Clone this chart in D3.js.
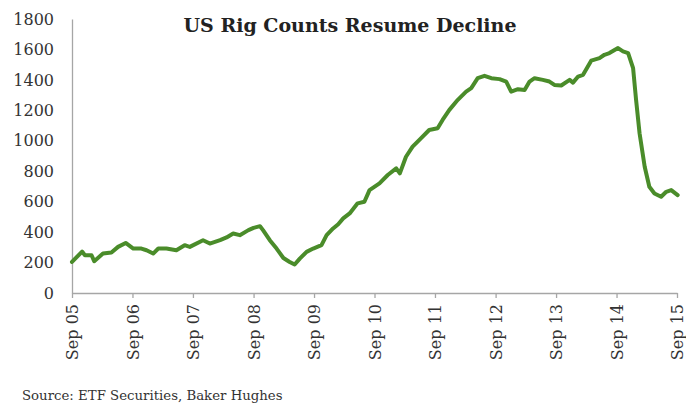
<!DOCTYPE html>
<html>
<head>
<meta charset="utf-8">
<script src="https://cdn.jsdelivr.net/npm/d3@7"></script>
<style>
  body { margin: 0; background: #fff; }
  svg { display: block; }
</style>
</head>
<body>
<svg id="chart" width="686" height="403"></svg>
<script>
// rig count readings (approx) off the chart
const dates = [
  "2005-09-01","2005-11-01","2005-11-18","2005-12-28","2006-01-13","2006-03-07","2006-04-27","2006-06-06","2006-07-22","2006-09-06",
  "2006-10-25","2006-11-25","2007-01-04","2007-02-04","2007-03-25","2007-05-24","2007-07-13","2007-08-13","2007-11-01","2007-12-12",
  "2008-02-12","2008-03-22","2008-05-01","2008-06-10","2008-08-01","2008-09-01","2008-10-10","2008-10-28","2008-12-08","2009-01-18",
  "2009-02-28","2009-04-07","2009-05-07","2009-06-07","2009-07-18","2009-08-27","2009-10-16","2009-11-16","2009-12-25","2010-01-25",
  "2010-02-24","2010-04-04","2010-05-22","2010-07-02","2010-08-02","2010-10-01","2010-11-20","2011-01-10","2011-02-01","2011-03-10",
  "2011-04-19","2011-06-08","2011-07-28","2011-09-17","2011-10-17","2011-11-27","2012-01-17","2012-03-07","2012-04-07","2012-05-16",
  "2012-06-26","2012-08-06","2012-09-25","2012-11-04","2012-12-04","2013-01-14","2013-02-23","2013-03-25","2013-04-24","2013-06-13",
  "2013-07-23","2013-08-22","2013-10-02","2013-11-22","2013-12-12","2014-01-12","2014-02-11","2014-04-01","2014-05-21","2014-06-20",
  "2014-07-20","2014-09-10","2014-10-10","2014-11-10","2014-12-10","2014-12-28","2015-01-18","2015-02-18","2015-03-18","2015-04-18",
  "2015-05-28","2015-06-28","2015-07-28","2015-09-05"
];
const rigs = [
  204, 272, 248, 248, 209, 259, 266, 303, 329, 292,
  292, 281, 259, 292, 292, 281, 314, 303, 347, 325,
  347, 365, 391, 380, 413, 428, 439, 413, 347, 292,
  230, 204, 187, 226, 270, 292, 314, 380, 424, 452,
  490, 523, 589, 599, 676, 720, 775, 819, 786, 895,
  961, 1016, 1071, 1082, 1137, 1203, 1269, 1323, 1346, 1411,
  1427, 1411, 1405, 1389, 1323, 1339, 1334, 1389, 1411, 1400,
  1389, 1367, 1363, 1400, 1382, 1422, 1433, 1526, 1543, 1565,
  1576, 1609, 1587, 1576, 1477, 1269, 1049, 829, 698, 654,
  632, 665, 676, 643
];
const yTicks = [0, 200, 400, 600, 800, 1000, 1200, 1400, 1600, 1800];
const xTickLabels = ["Sep 05","Sep 06","Sep 07","Sep 08","Sep 09","Sep 10","Sep 11","Sep 12","Sep 13","Sep 14","Sep 15"];

const title = "US Rig Counts Resume Decline";
const source = "Source: ETF Securities, Baker Hughes";

const width = 686, height = 403;
const margin = { top: 19, right: 9, bottom: 110, left: 72 };
const font = "Georgia, 'DejaVu Serif', serif";

const parse = d3.timeParse("%Y-%m-%d");
const data = dates.map((d, i) => ({ date: parse(d), value: rigs[i] }));
const tickDates = xTickLabels.map(l => new Date(2000 + +l.slice(4), 8, 1));

const x = d3.scaleTime()
    .domain([tickDates[0], tickDates[tickDates.length - 1]])
    .range([margin.left, width - margin.right]);

const y = d3.scaleLinear()
    .domain([0, 1800])
    .range([height - margin.bottom, margin.top]);

const svg = d3.select("#chart")
    .attr("font-family", font);

// y axis
const yAxis = svg.append("g")
    .attr("transform", `translate(${margin.left},0)`)
    .call(d3.axisLeft(y).tickValues(yTicks).tickSize(0).tickPadding(18).tickFormat(d3.format("d")))
    .attr("font-family", font)
    .attr("font-size", 16);
yAxis.select(".domain").attr("stroke", "#a6a6a6").attr("stroke-width", 1.3);
yAxis.selectAll("text").attr("fill", "#333");

// x axis
const xAxis = svg.append("g")
    .attr("transform", `translate(0,${height - margin.bottom})`)
    .call(d3.axisBottom(x)
        .tickValues(tickDates)
        .tickSize(5)
        .tickSizeOuter(0)
        .tickFormat((d, i) => xTickLabels[i]))
    .attr("font-family", font)
    .attr("font-size", 16);
xAxis.select(".domain").attr("stroke", "#a6a6a6").attr("stroke-width", 1.3);
xAxis.selectAll(".tick line").attr("stroke", "#a6a6a6").attr("stroke-width", 1.3);
xAxis.selectAll("text")
    .attr("fill", "#333")
    .attr("text-anchor", "end")
    .attr("transform", "rotate(-90)")
    .attr("x", -11)
    .attr("y", 0)
    .attr("dy", "0.35em");

// the line
svg.append("path")
    .datum(data)
    .attr("fill", "none")
    .attr("stroke", "#4a8c2a")
    .attr("stroke-width", 4)
    .attr("stroke-linejoin", "round")
    .attr("stroke-linecap", "round")
    .attr("d", d3.line()
        .x(d => x(d.date))
        .y(d => y(d.value)));

// title
svg.append("text")
    .attr("x", 350)
    .attr("y", 32)
    .attr("text-anchor", "middle")
    .attr("font-size", 19)
    .attr("font-weight", "bold")
    .attr("fill", "#222")
    .text(title);

// source
svg.append("text")
    .attr("x", 22)
    .attr("y", 400)
    .attr("font-size", 13.3)
    .attr("fill", "#333")
    .text(source);
</script>
</body>
</html>
